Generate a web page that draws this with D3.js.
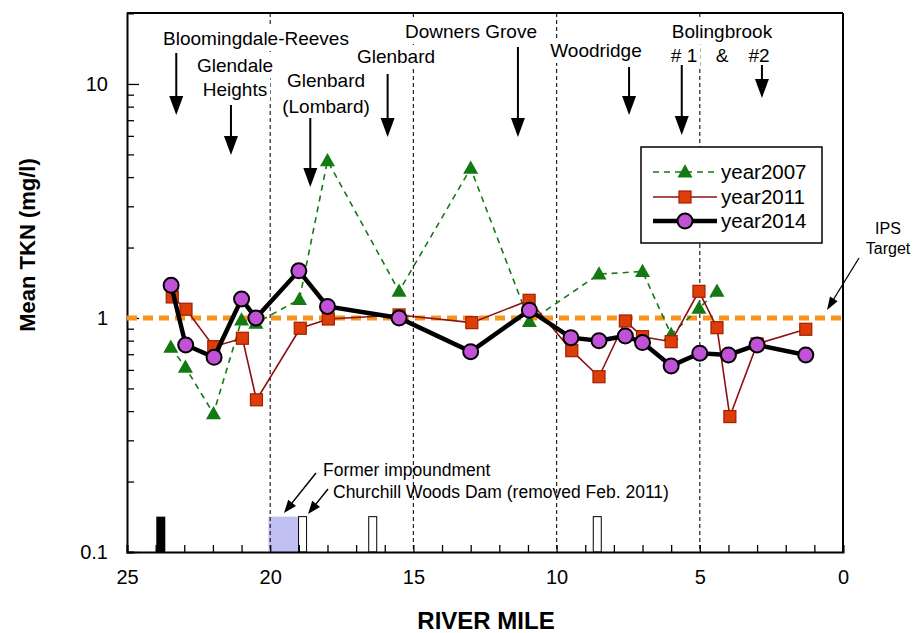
<!DOCTYPE html>
<html><head><meta charset="utf-8">
<script src="https://cdn.jsdelivr.net/npm/d3@7"></script>
<style>
html,body{margin:0;padding:0;background:#fff;}
text{font-family:"Liberation Sans",Arial,sans-serif;}
</style></head>
<body><svg id="c" width="922" height="633"></svg>
<script>
// ---- data ----
const miles2007 = [23.47, 22.96, 21.98, 21.0, 20.5, 18.98, 18.0, 15.5, 13.0, 10.95, 8.52, 7.0, 6.0, 5.03, 4.4];
const tkn2007   = [0.75, 0.615, 0.39, 0.98, 0.95, 1.20, 4.7, 1.30, 4.36, 0.965, 1.54, 1.58, 0.85, 1.10, 1.30];
const miles2011 = [23.42, 22.94, 21.97, 20.97, 20.48, 18.95, 17.97, 15.5, 12.96, 10.96, 9.47, 8.52, 7.6, 7.0, 6.0, 5.03, 4.4, 3.95, 3.0, 1.3];
const tkn2011   = [1.23, 1.09, 0.754, 0.819, 0.447, 0.904, 0.99, 1.03, 0.955, 1.19, 0.725, 0.561, 0.971, 0.832, 0.792, 1.30, 0.909, 0.379, 0.775, 0.895];
const miles2014 = [23.46, 22.95, 21.96, 21.0, 20.5, 19.0, 18.0, 15.5, 13.0, 10.95, 9.5, 8.52, 7.6, 7.0, 6.0, 5.0, 4.0, 3.0, 1.3];
const tkn2014   = [1.38, 0.767, 0.679, 1.205, 1.0, 1.59, 1.12, 1.0, 0.718, 1.08, 0.824, 0.80, 0.838, 0.785, 0.624, 0.707, 0.695, 0.767, 0.695];
const ipsTarget = 1;
const xTickLabels = [25, 20, 15, 10, 5, 0];
const yTickLabels = [0.1, 1, 10];
const dividerMiles = [20, 15, 10, 5];
const damsOpen = [18.87, 16.42, 8.58];
const damFilled = [23.82];
const impoundment = [20.06, 19.02];
const seriesNames = ["year2007", "year2011", "year2014"];

// ---- layout ----
const svg = d3.select("#c");
const L = 127, R = 843, T = 13, B = 552;
const x = d3.scaleLinear().domain([25, 0]).range([L, R]);
const y = d3.scaleLog().domain([0.1, 20.1]).range([B, T]);
const damTop = 0.1416;

function arrow(g, x1, y1, x2, y2, headLen, headW, sw) {
  const dx = x2 - x1, dy = y2 - y1, len = Math.hypot(dx, dy);
  const ux = dx / len, uy = dy / len;
  const bx = x2 - ux * headLen, by = y2 - uy * headLen;
  g.append("line").attr("x1", x1).attr("y1", y1).attr("x2", bx + ux).attr("y2", by + uy)
    .attr("stroke", "#000").attr("stroke-width", sw);
  const px = -uy * headW / 2, py = ux * headW / 2;
  g.append("path").attr("d", `M${x2},${y2}L${bx + px},${by + py}L${bx - px},${by - py}Z`).attr("fill", "#000");
}

// impoundment shading
svg.append("rect").attr("x", x(impoundment[0])).attr("y", y(damTop))
  .attr("width", x(impoundment[1]) - x(impoundment[0])).attr("height", B - y(damTop))
  .attr("fill", "#c0c0f2");

// divider lines
svg.selectAll(".div").data(dividerMiles).enter().append("line")
  .attr("x1", d => x(d)).attr("x2", d => x(d)).attr("y1", T).attr("y2", B)
  .attr("stroke", "#222").attr("stroke-width", 1.2).attr("stroke-dasharray", "4,3");

// dams
svg.selectAll(".dam").data(damsOpen).enter().append("rect")
  .attr("x", d => x(d) - 4).attr("y", y(damTop)).attr("width", 8).attr("height", B - y(damTop))
  .attr("fill", "#fff").attr("stroke", "#000").attr("stroke-width", 1);
svg.selectAll(".damf").data(damFilled).enter().append("rect")
  .attr("x", d => x(d) - 4.5).attr("y", y(damTop)).attr("width", 9).attr("height", B - y(damTop))
  .attr("fill", "#000");

// axes
const minorX = d3.range(0, 26);
svg.append("g").attr("transform", `translate(0,${B})`)
  .call(d3.axisBottom(x).tickValues(minorX).tickSize(-7).tickFormat(""))
  .call(g => g.select(".domain").attr("stroke-width", 2))
  .call(g => g.selectAll(".tick line").attr("stroke-width", 1.3));
svg.append("g").attr("transform", `translate(0,${B})`)
  .call(d3.axisBottom(x).tickValues(xTickLabels).tickSize(0).tickPadding(18).tickFormat(d3.format("d")))
  .call(g => g.select(".domain").remove())
  .call(g => g.selectAll("text").attr("font-size", 20).attr("fill", "#000").attr("font-family", "Liberation Sans, Arial"));

const minorY = [];
[0.1, 1, 10].forEach(b => { for (let k = 2; k <= 9; k++) if (b * k < 20) minorY.push(b * k); });
svg.append("g").attr("transform", `translate(${L},0)`)
  .call(d3.axisLeft(y).tickValues(minorY).tickSize(-7).tickFormat(""))
  .call(g => g.select(".domain").attr("stroke-width", 2))
  .call(g => g.selectAll(".tick line").attr("stroke-width", 1.3));
svg.append("g").attr("transform", `translate(${L},0)`)
  .call(d3.axisLeft(y).tickValues(yTickLabels).tickSize(-12).tickPadding(19).tickFormat(d => d < 1 ? "0.1" : d3.format("d")(d)))
  .call(g => g.select(".domain").remove())
  .call(g => g.selectAll(".tick line").attr("stroke-width", 1.3))
  .call(g => g.selectAll("text").attr("font-size", 20).attr("fill", "#000").attr("font-family", "Liberation Sans, Arial"));

// frame top/right
svg.append("line").attr("x1", L).attr("x2", R).attr("y1", T).attr("y2", T).attr("stroke", "#000").attr("stroke-width", 2);
svg.append("line").attr("x1", R).attr("x2", R).attr("y1", T).attr("y2", B).attr("stroke", "#000").attr("stroke-width", 2);

// axis titles
svg.append("text").attr("x", 486).attr("y", 629).attr("text-anchor", "middle")
  .attr("font-size", 24).attr("font-weight", "bold").text("RIVER MILE");
svg.append("text").attr("transform", "translate(35,245) rotate(-90)").attr("text-anchor", "middle")
  .attr("font-size", 22).attr("font-weight", "bold").text("Mean TKN (mg/l)");

// annotation labels (white background)
const labels = [
  {t: "Bloomingdale-Reeves", cx: 256, by: 45},
  {t: "Glendale", cx: 235, by: 72},
  {t: "Heights", cx: 235, by: 96},
  {t: "Glenbard", cx: 326, by: 87},
  {t: "(Lombard)", cx: 326, by: 113},
  {t: "Glenbard", cx: 396, by: 63},
  {t: "Downers Grove", cx: 471, by: 38},
  {t: "Woodridge", cx: 596, by: 57},
  {t: "Bolingbrook", cx: 722, by: 38},
  {t: "# 1", cx: 684, by: 62},
  {t: "&", cx: 722, by: 62},
  {t: "#2", cx: 759, by: 62}
];
const lg = svg.append("g");
labels.forEach(l => {
  const g = lg.append("g");
  const t = g.append("text").attr("x", l.cx).attr("y", l.by).attr("text-anchor", "middle")
    .attr("font-size", 19).text(l.t);
  const bb = t.node().getBBox();
  g.insert("rect", "text").attr("x", bb.x - 3).attr("y", bb.y - 1).attr("width", bb.width + 6).attr("height", bb.height + 3).attr("fill", "#fff");
});

// annotation arrows (mile, y-start, y-tip)
const ann = [
  [23.28, 53, 115], [21.37, 105, 155], [18.6, 118, 187], [15.9, 74, 137],
  [11.35, 47, 137], [7.47, 67, 115], [5.63, 65, 135], [2.83, 65, 98]
];
ann.forEach(a => arrow(svg, x(a[0]), a[1], x(a[0]), a[2], 19, 14, 2));

// IPS line
svg.append("line").attr("x1", L).attr("x2", R).attr("y1", y(ipsTarget)).attr("y2", y(ipsTarget))
  .attr("stroke", "#f7941d").attr("stroke-width", 5).attr("stroke-dasharray", "10,6");

// series
const line = d3.line().x(d => x(d[0])).y(d => y(d[1]));
const d07 = miles2007.map((m, i) => [m, tkn2007[i]]);
const d11 = miles2011.map((m, i) => [m, tkn2011[i]]);
const d14 = miles2014.map((m, i) => [m, tkn2014[i]]);

const green = "#137a13", darkred = "#8c1010", sqFill = "#de3c08", sqStroke = "#a02000", purple = "#c152d8";

function tri(g, cx, cy, s) {
  g.append("path").attr("d", `M${cx},${cy - s * 0.6}L${cx + s * 0.58},${cy + s * 0.42}L${cx - s * 0.58},${cy + s * 0.42}Z`)
    .attr("fill", green);
}
function sq(g, cx, cy, s) {
  g.append("rect").attr("x", cx - s / 2).attr("y", cy - s / 2).attr("width", s).attr("height", s)
    .attr("fill", sqFill).attr("stroke", sqStroke).attr("stroke-width", 1.2);
}
function circ(g, cx, cy, r) {
  g.append("circle").attr("cx", cx).attr("cy", cy).attr("r", r).attr("fill", purple).attr("stroke", "#000").attr("stroke-width", 2);
}

svg.append("path").datum(d07).attr("d", line).attr("fill", "none").attr("stroke", green).attr("stroke-width", 1.6).attr("stroke-dasharray", "6,5");
const g07 = svg.append("g");
d07.forEach(d => tri(g07, x(d[0]), y(d[1]), 13));

svg.append("path").datum(d11).attr("d", line).attr("fill", "none").attr("stroke", darkred).attr("stroke-width", 1.6);
const g11 = svg.append("g");
d11.forEach(d => sq(g11, x(d[0]), y(d[1]), 12));

svg.append("path").datum(d14).attr("d", line).attr("fill", "none").attr("stroke", "#000").attr("stroke-width", 4.5);
const g14 = svg.append("g");
d14.forEach(d => circ(g14, x(d[0]), y(d[1]), 7.5));

// legend
const leg = svg.append("g");
leg.append("rect").attr("x", 641).attr("y", 147).attr("width", 181).attr("height", 96)
  .attr("fill", "#fff").attr("stroke", "#000").attr("stroke-width", 1.5);
const ly = [172, 197, 221];
leg.append("line").attr("x1", 653).attr("x2", 717).attr("y1", ly[0]).attr("y2", ly[0]).attr("stroke", green).attr("stroke-width", 1.6).attr("stroke-dasharray", "6,5");
tri(leg, 685, ly[0], 13);
leg.append("line").attr("x1", 653).attr("x2", 717).attr("y1", ly[1]).attr("y2", ly[1]).attr("stroke", darkred).attr("stroke-width", 1.6);
sq(leg, 685, ly[1], 12);
leg.append("line").attr("x1", 653).attr("x2", 717).attr("y1", ly[2]).attr("y2", ly[2]).attr("stroke", "#000").attr("stroke-width", 4.5);
circ(leg, 685, ly[2], 7.5);
seriesNames.forEach((n, i) => leg.append("text").attr("x", 721).attr("y", ly[i] + 7).attr("font-size", 20.5).text(n));

// IPS Target
svg.append("text").attr("x", 888).attr("y", 234).attr("text-anchor", "middle").attr("font-size", 16).text("IPS");
svg.append("text").attr("x", 888).attr("y", 254).attr("text-anchor", "middle").attr("font-size", 16).text("Target");
arrow(svg, 859, 258, 827, 310, 13, 9, 1.3);

// bottom notes
svg.append("text").attr("x", 323).attr("y", 476).attr("font-size", 17.5).text("Former impoundment");
svg.append("text").attr("x", 333).attr("y", 498).attr("font-size", 17.5).text("Churchill Woods Dam (removed Feb. 2011)");
arrow(svg, 316, 473, 284, 513, 13, 10, 1.5);
arrow(svg, 328, 489, 308, 514, 13, 10, 1.5);
</script></body></html>
